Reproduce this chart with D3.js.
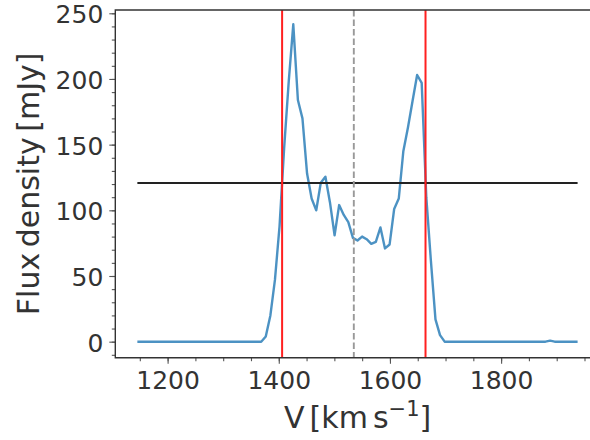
<!DOCTYPE html>
<html>
<head>
<meta charset="utf-8">
<script src="https://cdn.jsdelivr.net/npm/d3@7"></script>
<style>
  html, body { margin: 0; padding: 0; background: #fff; }
  svg { display: block; font-family: "DejaVu Sans", sans-serif; }
</style>
</head>
<body>
<svg id="chart" width="590" height="440"></svg>
<script>
// Spectral channels (km/s) and measured flux density (mJy)
const velocity = [
  1145.6, 1153.9, 1162.1, 1170.4, 1178.6, 1186.9, 1195.1, 1203.4, 1211.6, 1219.9,
  1228.1, 1236.4, 1244.6, 1252.9, 1261.1, 1269.4, 1277.6, 1285.9, 1294.1, 1302.4,
  1310.6, 1318.9, 1327.1, 1335.4, 1343.6, 1351.9, 1360.1, 1368.4, 1376.6, 1384.9,
  1393.1, 1401.4, 1409.6, 1417.9, 1426.1, 1434.4, 1442.6, 1450.9, 1459.1, 1467.4,
  1475.6, 1483.9, 1492.1, 1500.4, 1508.6, 1516.9, 1525.1, 1533.4, 1541.6, 1549.9,
  1558.1, 1566.4, 1574.6, 1582.9, 1591.1, 1599.4, 1607.6, 1615.9, 1624.1, 1632.4,
  1640.6, 1648.9, 1657.1, 1665.4, 1673.6, 1681.9, 1690.1, 1698.4, 1706.6, 1714.9,
  1723.1, 1731.4, 1739.6, 1747.9, 1756.1, 1764.4, 1772.6, 1780.9, 1789.1, 1797.4,
  1805.6, 1813.9, 1822.1, 1830.4, 1838.6, 1846.9, 1855.1, 1863.4, 1871.6, 1879.9,
  1888.1, 1896.4, 1904.6, 1912.9, 1921.1, 1929.4, 1937.6
];
const flux = [
  0, 0, 0, 0, 0, 0, 0, 0, 0, 0,
  0, 0, 0, 0, 0, 0, 0, 0, 0, 0,
  0, 0, 0, 0, 0, 0, 0, 0, 4, 20,
  47, 88, 147, 198, 241.6, 184, 170, 128, 109, 100,
  121, 125.6, 106, 81, 104, 96.5, 91, 79, 77, 80,
  78, 74.5, 76, 87, 71, 74, 101, 109, 145, 163,
  183, 203, 197, 110, 62, 17, 5, 0, 0, 0,
  0, 0, 0, 0, 0, 0, 0, 0, 0, 0,
  0, 0, 0, 0, 0, 0, 0, 0, 0, 0,
  0.8, 0, 0, 0, 0, 0, 0
];
// Velocity limits of the line width at 50% of the peak
const w50Edges = [1406, 1664];

const xTicks = [1200, 1400, 1600, 1800];
const yTicks = [0, 50, 100, 150, 200, 250];

const svg = d3.select("#chart");
const plot = { left: 115.3, right: 600, top: 10, bottom: 357.7 };
const textColor = "#333";

const x = d3.scaleLinear().domain([1105.9, 1977.9]).range([plot.left, plot.right]);
const y = d3.scaleLinear().domain([-12.2, 252.5]).range([plot.bottom, plot.top]);

const data = velocity.map((v, i) => ({ v, f: flux[i] }));
const peak = d3.max(flux);
const halfPeak = peak / 2;
const centre = d3.mean(w50Edges);

const g = svg.append("g");

// spectrum
g.append("path")
  .datum(data)
  .attr("fill", "none")
  .attr("stroke", "#1f77b4")
  .attr("stroke-opacity", 0.8)
  .attr("stroke-width", 2.4)
  .attr("stroke-linejoin", "round")
  .attr("d", d3.line().x(d => x(d.v)).y(d => y(d.f)));

// half-peak level
g.append("line")
  .attr("x1", x(d3.min(velocity))).attr("x2", x(d3.max(velocity)))
  .attr("y1", y(halfPeak)).attr("y2", y(halfPeak))
  .attr("stroke", "#222").attr("stroke-width", 1.8);

// W50 edges
g.selectAll(".edge").data(w50Edges).enter().append("line")
  .attr("class", "edge")
  .attr("x1", d => x(d)).attr("x2", d => x(d))
  .attr("y1", plot.top).attr("y2", plot.bottom)
  .attr("stroke", "#ff2020").attr("stroke-width", 2);

// systemic velocity
g.append("line")
  .attr("x1", x(centre)).attr("x2", x(centre))
  .attr("y1", plot.top).attr("y2", plot.bottom)
  .attr("stroke", "#999").attr("stroke-width", 1.9)
  .attr("stroke-dasharray", "6.5,3");

// axes
const xAxisMinor = d3.axisBottom(x).tickValues(d3.range(1150, 1976, 50)).tickSize(3.5).tickFormat("");
const xAxis = d3.axisBottom(x).tickValues(xTicks).tickSize(6).tickPadding(5).tickFormat(d3.format("d"));
const yAxisMinor = d3.axisLeft(y).tickValues(d3.range(-10, 251, 10)).tickSize(3.5).tickFormat("");
const yAxis = d3.axisLeft(y).tickValues(yTicks).tickSize(6).tickPadding(6).tickFormat(d3.format("d"));

function style(sel) {
  sel.select(".domain").remove();
  sel.selectAll(".tick line").attr("stroke", "#555").attr("stroke-width", 1.1);
  sel.selectAll(".tick text").attr("fill", textColor).attr("font-size", 25)
    .attr("font-family", "DejaVu Sans");
}

svg.append("g").attr("transform", `translate(0,${plot.bottom})`).call(xAxisMinor).call(style);
const gx = svg.append("g").attr("transform", `translate(0,${plot.bottom})`).call(xAxis).call(style);
gx.selectAll(".tick text").attr("dy", null).attr("y", 31);

svg.append("g").attr("transform", `translate(${plot.left},0)`).call(yAxisMinor).call(style);
const gy = svg.append("g").attr("transform", `translate(${plot.left},0)`).call(yAxis).call(style);
gy.selectAll(".tick text").attr("dy", null).attr("y", 9.5).attr("x", -12);

// spines (left, top, bottom)
svg.append("path")
  .attr("d", `M${plot.right},${plot.top}H${plot.left}V${plot.bottom}H${plot.right}`)
  .attr("fill", "none").attr("stroke", "#333").attr("stroke-width", 1.4);

// axis labels
const xl = svg.append("text")
  .attr("x", (plot.left + plot.right) / 2).attr("y", 428)
  .attr("text-anchor", "middle").attr("fill", textColor).attr("font-size", 30);
xl.append("tspan").text("V");
xl.append("tspan").attr("dx", 5).text("[km");
xl.append("tspan").attr("dx", 5).text("s");
xl.append("tspan").attr("font-size", 21).attr("dy", -12).text("−1");
xl.append("tspan").attr("dy", 12).text("]");

svg.append("text")
  .attr("transform", `translate(39,${(plot.top + plot.bottom) / 2}) rotate(-90)`)
  .attr("text-anchor", "middle").attr("fill", textColor).attr("font-size", 30)
  .attr("word-spacing", -4)
  .text("Flux density [mJy]");
</script>
</body>
</html>
